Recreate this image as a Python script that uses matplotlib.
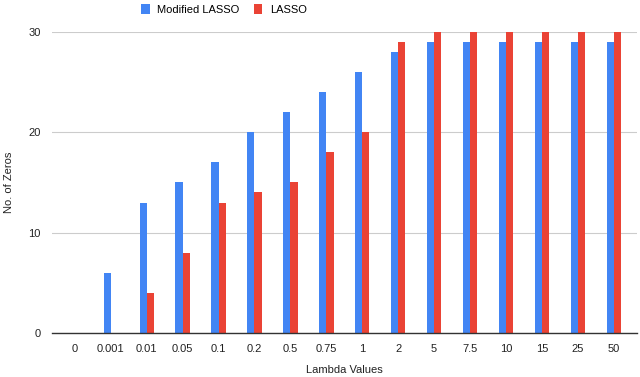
import numpy as np
import matplotlib.pyplot as plt

plt.rcParams["font.family"] = ["Liberation Sans", "DejaVu Sans"]

lambdas = ["0", "0.001", "0.01", "0.05", "0.1", "0.2", "0.5", "0.75", "1",
           "2", "5", "7.5", "10", "15", "25", "50"]
modified_lasso = [0, 6, 13, 15, 17, 20, 22, 24, 26, 28, 29, 29, 29, 29, 29, 29]
lasso = [0, 0, 4, 8, 13, 14, 15, 18, 20, 29, 30, 30, 30, 30, 30, 30]

blue = "#4285F4"
red = "#EA4335"

fig = plt.figure(figsize=(6.4, 3.77), dpi=100)
ax = fig.add_axes([0.081, 0.117, 0.914, 0.798])

x = np.arange(len(lambdas))
w = 0.2
ax.bar(x - w / 2, modified_lasso, w, color=blue, label="Modified LASSO", clip_on=False)
ax.bar(x + w / 2, lasso, w, color=red, label="LASSO", clip_on=False)

ax.set_xlim(-0.64, 15.64)
ax.set_ylim(0, 30)
ax.set_yticks([0, 10, 20, 30])
ax.set_xticks(x)
ax.set_xticklabels(lambdas)
ax.tick_params(axis="both", length=0, labelsize=8, colors="#222222")
ax.tick_params(axis="x", pad=8)
ax.tick_params(axis="y", pad=8)
ax.grid(axis="y", color="#cccccc", linewidth=0.8)
ax.set_axisbelow(True)
for s in ["top", "right", "left"]:
    ax.spines[s].set_visible(False)
ax.spines["bottom"].set_color("#333333")
ax.spines["bottom"].set_linewidth(1)

ax.set_xlabel("Lambda Values", fontsize=8, color="#222222", labelpad=8)
ax.set_ylabel("No. of Zeros", fontsize=8, color="#222222", labelpad=10)

fig.legend(loc="upper left", bbox_to_anchor=(0.205, 1.015), ncol=2, frameon=False,
           fontsize=8, handlelength=0.75, handleheight=1.0, columnspacing=1.3,
           handletextpad=0.7)

fig.savefig("out.png", dpi=100)
